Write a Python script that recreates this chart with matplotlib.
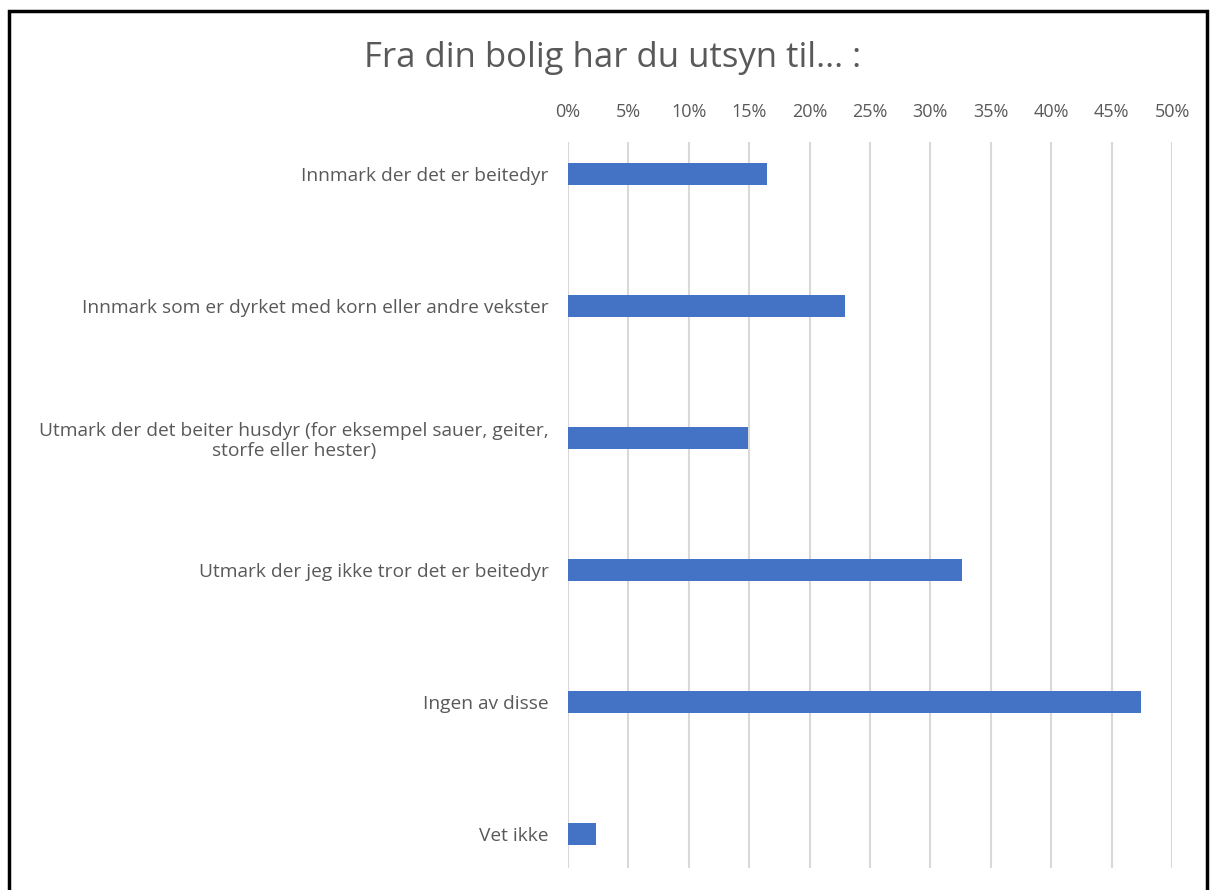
import numpy as np
import matplotlib.pyplot as plt
from matplotlib.patches import Rectangle
from matplotlib.ticker import PercentFormatter

categories = [
    "Innmark der det er beitedyr",
    "Innmark som er dyrket med korn eller andre vekster",
    "Utmark der det beiter husdyr (for eksempel sauer, geiter,\nstorfe eller hester)",
    "Utmark der jeg ikke tror det er beitedyr",
    "Ingen av disse",
    "Vet ikke",
]
shares = [0.165, 0.229, 0.149, 0.326, 0.474, 0.023]
ticks = np.arange(0, 0.51, 0.05)

title = "Fra din bolig har du utsyn til... :"
bar_color = "#4472C4"
text_color = "#595959"
grid_color = "#D9D9D9"

plt.rcParams['font.family'] = ['Open Sans', 'DejaVu Sans']

fig = plt.figure(figsize=(12.1, 8.9), dpi=100)
ax = fig.add_axes([568 / 1210, 1 - 868 / 890, (1172 - 568) / 1210, (868 - 142) / 890])

y = np.arange(len(categories))
ax.barh(y, shares, height=0.167, color=bar_color, zorder=3)

ax.set_xlim(0, 0.5)
ax.set_ylim(5.258, -0.242)
ax.set_xticks(ticks)
ax.xaxis.set_major_formatter(PercentFormatter(1.0, decimals=0))
ax.xaxis.tick_top()
ax.tick_params(axis='x', length=0, pad=15, labelsize=13, labelcolor=text_color)
ax.set_yticks(y)
ax.set_yticklabels(categories, multialignment='center', linespacing=1.15)
ax.tick_params(axis='y', length=0, pad=14, labelsize=13.8, labelcolor=text_color)
ax.grid(axis='x', color=grid_color, linewidth=1.5, zorder=0)
for s in ax.spines.values():
    s.set_visible(False)

fig.text(613 / 1210, 1 - 58 / 890, title, ha='center', va='center',
         fontsize=25, color=text_color)

# black frame round the chart (bottom edge is cut off in the reference)
fig.patches.append(Rectangle((9 / 1210, -0.05), (1207 - 9) / 1210, 1.05 - 11 / 890,
                             transform=fig.transFigure, fill=False,
                             edgecolor='black', linewidth=2.5))

fig.savefig("out.png", dpi=100)
